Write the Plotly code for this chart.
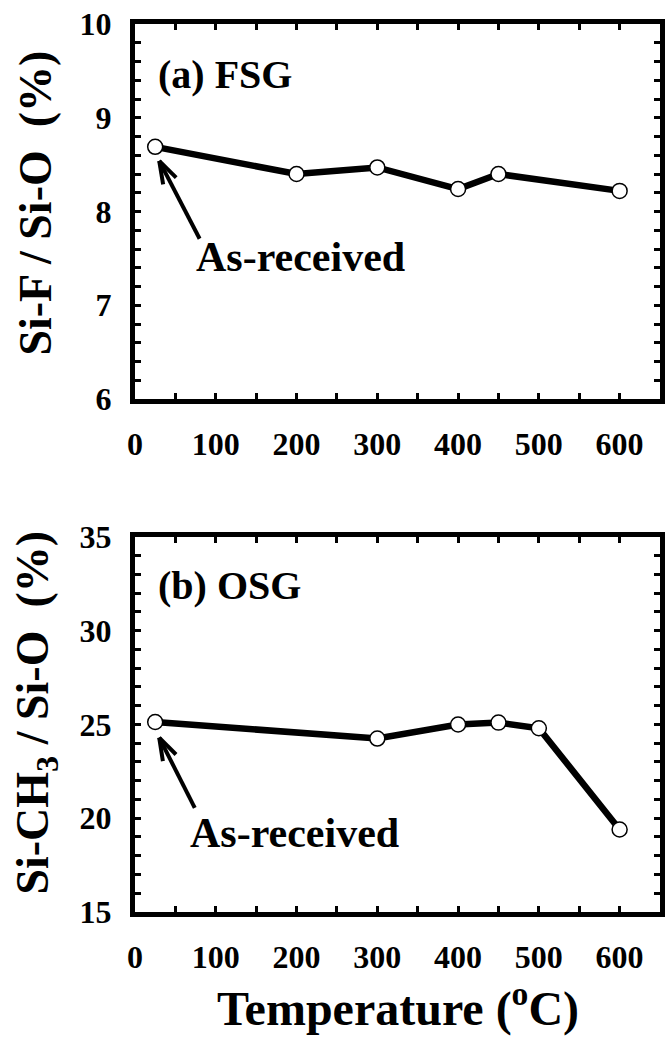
import math
import plotly.graph_objects as go

# ---------------- data ----------------
temp_fsg = [25, 200, 300, 400, 450, 600]
sif_ratio = [8.69, 8.40, 8.47, 8.24, 8.40, 8.22]

temp_osg = [25, 300, 400, 450, 500, 600]
sich3_ratio = [25.13, 24.25, 25.0, 25.1, 24.8, 19.4]

x_tickvals = [0, 100, 200, 300, 400, 500, 600]
x_ticktext = ["0", "100", "200", "300", "400", "500", "600"]
y1_tickvals = [6, 7, 8, 9, 10]
y1_ticktext = ["6", "7", "8", "9", "10"]
y2_tickvals = [15, 20, 25, 30, 35]
y2_ticktext = ["15", "20", "25", "30", "35"]

# ---------------- layout geometry ----------------
W, H = 671, 1048
ML, MR, MT, MB = 135, 6, 17, 136
plot_h = H - MT - MB
top_bottom_px = 395
bot_top_px = 534
dom1 = [(H - MB - top_bottom_px) / plot_h, 1.0]
dom2 = [0.0, (H - MB - bot_top_px) / plot_h]

FONT = "Liberation Serif, Times New Roman, serif"

fig = go.Figure()
line_style = dict(color="black", width=6.5)
marker_style = dict(symbol="circle", size=15, color="white",
                    line=dict(color="black", width=1.5))

fig.add_trace(go.Scatter(x=temp_fsg, y=sif_ratio, mode="lines+markers",
                         line=line_style, marker=marker_style,
                         xaxis="x", yaxis="y", showlegend=False))
fig.add_trace(go.Scatter(x=temp_osg, y=sich3_ratio, mode="lines+markers",
                         line=line_style, marker=marker_style,
                         xaxis="x2", yaxis="y2", showlegend=False))

tick_style = dict(ticks="inside", ticklen=6, tickwidth=3, tickcolor="black")
axis_common = dict(showline=True, linewidth=5, linecolor="black", mirror="ticks",
                   showgrid=False, zeroline=False, tickmode="array",
                   tickfont=dict(family=FONT, size=32, color="black", weight=700),
                   **tick_style)

fig.update_layout(
    width=W, height=H,
    margin=dict(l=ML, r=MR, t=MT, b=MB),
    paper_bgcolor="white", plot_bgcolor="white",
    font=dict(family=FONT, color="black"),
    xaxis=dict(domain=[0, 1], range=[0, 650], anchor="y",
               tickvals=x_tickvals, ticktext=x_ticktext,
               minor=dict(dtick=50, showgrid=False, **tick_style),
               ticklabelstandoff=13, **axis_common),
    yaxis=dict(domain=dom1, range=[6, 10], anchor="x",
               tickvals=y1_tickvals, ticktext=y1_ticktext,
               minor=dict(dtick=0.2, showgrid=False, **tick_style),
               ticklabelstandoff=12, **axis_common),
    xaxis2=dict(domain=[0, 1], range=[0, 650], anchor="y2",
                tickvals=x_tickvals, ticktext=x_ticktext,
                minor=dict(dtick=50, showgrid=False, **tick_style),
                ticklabelstandoff=13, **axis_common),
    yaxis2=dict(domain=dom2, range=[15, 35], anchor="x2",
                tickvals=y2_tickvals, ticktext=y2_ticktext,
                minor=dict(dtick=1, showgrid=False, **tick_style),
                ticklabelstandoff=12, **axis_common),
)

ann_font = lambda sz: dict(family=FONT, size=sz, color="black", weight=700)


def paper_y(px):
    return (H - MB - px) / plot_h


annotations = [
    dict(text="(a) FSG", x=26, y=9.46, xref="x", yref="y", xanchor="left",
         yanchor="middle", showarrow=False, font=ann_font(40)),
    dict(text="As-received", x=73, y=7.51, xref="x", yref="y", xanchor="left",
         yanchor="middle", showarrow=False, font=ann_font(42)),
    dict(text="(b) OSG", x=26, y=32.4, xref="x2", yref="y2", xanchor="left",
         yanchor="middle", showarrow=False, font=ann_font(40)),
    dict(text="As-received", x=65, y=19.23, xref="x2", yref="y2", xanchor="left",
         yanchor="middle", showarrow=False, font=ann_font(42)),
    dict(text="Si-F / Si-O\u00a0\u00a0(%)", xref="paper", yref="paper",
         x=0, xshift=36 - ML, y=paper_y(198), xanchor="center", yanchor="middle",
         textangle=-90, showarrow=False, font=ann_font(46)),
    dict(text="Si-CH<sub>3</sub> / Si-O\u00a0\u00a0(%)", xref="paper", yref="paper",
         x=0, xshift=36 - ML, y=paper_y(711), xanchor="center", yanchor="middle",
         textangle=-90, showarrow=False, font=ann_font(46)),
    dict(text="Temperature (<sup>o</sup>C)", xref="paper", yref="paper",
         x=0.5, y=paper_y(1006), xanchor="center", yanchor="middle",
         showarrow=False, font=ann_font(48)),
]

# arrows: (tail, head) in data coordinates, with pixel scale for the V head
arrows = [
    dict(xr="x", yr="y", tail=(80, 7.71), head=(30, 8.54), yrange=(6, 10)),
    dict(xr="x2", yr="y2", tail=(74, 20.55), head=(30, 24.3), yrange=(15, 35)),
]
px_per_x = (W - ML - MR) / 650.0
shapes = []
for a in arrows:
    ylo, yhi = a["yrange"]
    px_per_y = (top_bottom_px - MT) / (yhi - ylo)
    tx, ty = a["tail"]
    hx, hy = a["head"]
    shapes.append(dict(type="line", xref=a["xr"], yref=a["yr"], x0=tx, y0=ty, x1=hx, y1=hy,
                       line=dict(color="black", width=4)))
    dxp = (tx - hx) * px_per_x
    dyp = (ty - hy) * px_per_y
    L = math.hypot(dxp, dyp)
    ux, uy = dxp / L, dyp / L
    blen = 24
    for ang in (math.radians(18), -math.radians(18)):
        bx = ux * math.cos(ang) - uy * math.sin(ang)
        by = ux * math.sin(ang) + uy * math.cos(ang)
        shapes.append(dict(type="line", xref=a["xr"], yref=a["yr"], x0=hx, y0=hy,
                           x1=hx + bx * blen / px_per_x, y1=hy + by * blen / px_per_y,
                           line=dict(color="black", width=4)))

fig.update_layout(annotations=annotations, shapes=shapes)

fig.write_html("out.html")
